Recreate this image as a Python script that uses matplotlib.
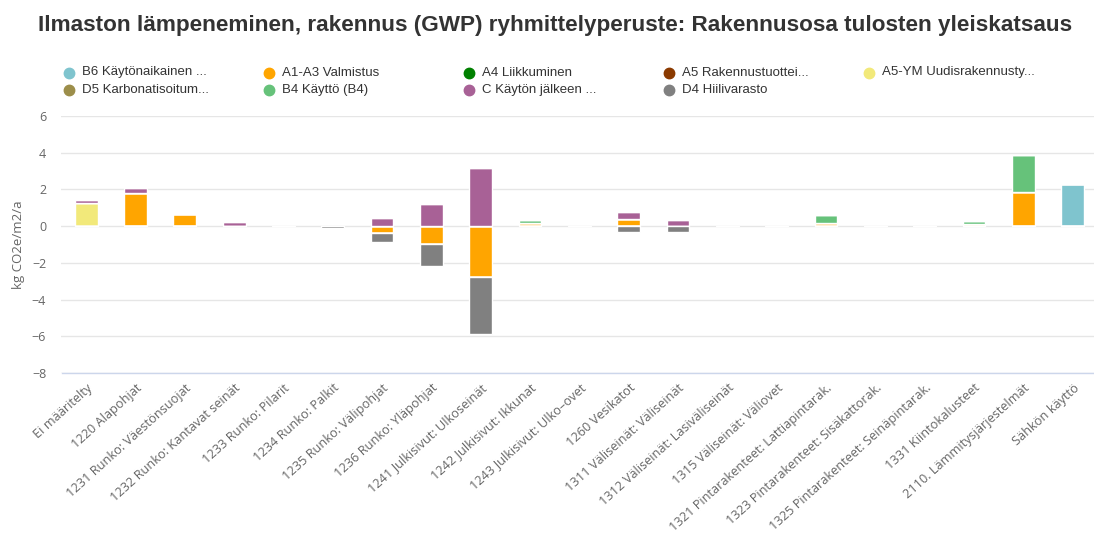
import matplotlib
matplotlib.use("Agg")
import matplotlib.pyplot as plt
from matplotlib.lines import Line2D
import numpy as np

categories = [
    "Ei määritelty", "1220 Alapohjat", "1231 Runko: Väestönsuojat",
    "1232 Runko: Kantavat seinät", "1233 Runko: Pilarit", "1234 Runko: Palkit",
    "1235 Runko: Välipohjat", "1236 Runko: Yläpohjat", "1241 Julkisivut: Ulkoseinät",
    "1242 Julkisivut: Ikkunat", "1243 Julkisivut: Ulko–ovet", "1260 Vesikatot",
    "1311 Väliseinät: Väliseinät", "1312 Väliseinät: Lasiväliseinät",
    "1315 Väliseinät: Väliovet", "1321 Pintarakenteet: Lattiapintarak.",
    "1323 Pintarakenteet: Sisäkattorak.", "1325 Pintarakenteet: Seinäpintarak.",
    "1331 Kiintokalusteet", "2110. Lämmitysjärjestelmät", "Sähkön käyttö",
]

series_names = [
    "B6 Käytönaikainen ...", "A1-A3 Valmistus", "A4 Liikkuminen",
    "A5 Rakennustuottei...", "A5-YM Uudisrakennusty...", "D5 Karbonatisoitum...",
    "B4 Käyttö (B4)", "C Käytön jälkeen ...", "D4 Hiilivarasto",
]
series_colors = ["#7fc4ce", "#ffa500", "#008000", "#8b3a00", "#f2e97a",
                 "#9c8e4a", "#66c27a", "#a86196", "#808080"]

b6   = [0, 0, 0, 0, 0, 0, 0, 0, 0, 0, 0, 0, 0, 0, 0, 0, 0, 0, 0, 0, 2.27]
a1a3 = [0, 1.78, 0.64, 0, 0, 0, -0.38, -1.0, -2.75, 0.18, 0, 0.40, 0, 0, 0, 0.18, 0, 0, 0.12, 1.85, 0]
a4   = [0] * 21
a5   = [0] * 21
a5ym = [1.27, 0, 0, 0, 0, 0, 0, 0, 0, 0, 0, 0, 0, 0, 0, 0, 0, 0, 0, 0, 0]
d5   = [0] * 21
b4   = [0, 0, 0, 0, 0, 0, 0, 0, 0, 0.15, 0, 0, 0, 0, 0, 0.40, 0, 0, 0.15, 2.0, 0]
c    = [0.17, 0.30, 0, 0.25, 0, 0, 0.45, 1.23, 3.18, 0, 0, 0.36, 0.33, 0, 0, 0, 0, 0, 0, 0, 0]
d4   = [0, 0, 0, 0, 0, -0.12, -0.47, -1.18, -3.10, 0, 0, -0.33, -0.33, 0, 0, 0, 0, 0, 0, 0, 0]

series_values = [b6, a1a3, a4, a5, a5ym, d5, b4, c, d4]

y_ticks = [6, 4, 2, 0, -2, -4, -6, -8]
y_label = "kg CO2e/m2/a"
title = "Ilmaston lämpeneminen, rakennus (GWP) ryhmittelyperuste: Rakennusosa tulosten yleiskatsaus"

W, H = 1094, 540
fig = plt.figure(figsize=(W / 100, H / 100), dpi=100)
left_px, right_px, top_px, bottom_px = 61.5, 1094, 116, 373
ax = fig.add_axes([left_px / W, 1 - bottom_px / H, (right_px - left_px) / W, (bottom_px - top_px) / H])

x = np.arange(len(categories))
pos_base = np.zeros(len(categories))
neg_base = np.zeros(len(categories))
for vals, col in zip(series_values, series_colors):
    v = np.array(vals, dtype=float)
    pos = np.where(v > 0, v, 0)
    neg = np.where(v < 0, v, 0)
    ax.bar(x, pos, 0.46, bottom=pos_base, color=col, edgecolor="white", linewidth=1, zorder=3)
    ax.bar(x, neg, 0.46, bottom=neg_base, color=col, edgecolor="white", linewidth=1, zorder=3)
    pos_base += pos
    neg_base += neg

ax.set_xlim(-0.5, len(categories) - 0.57)
ax.set_ylim(-8, 6)
ax.set_yticks(y_ticks)
ax.set_yticklabels([("\u2212" + str(-t)) if t < 0 else str(t) for t in y_ticks])
ax.grid(axis="y", color="#e6e6e6", linewidth=1, zorder=0)
ax.set_axisbelow(True)
for s in ["top", "right", "left"]:
    ax.spines[s].set_visible(False)
ax.spines["bottom"].set_color("#ccd6eb")
ax.spines["bottom"].set_linewidth(1)
ax.tick_params(axis="y", length=0, pad=11, labelsize=9, labelcolor="#666666")
ax.tick_params(axis="x", length=0, pad=6, labelsize=9.2, labelcolor="#666666")
for lab in ax.get_yticklabels():
    lab.set_fontfamily("Open Sans")
ax.set_xticks(x)
ax.set_xticklabels(categories, rotation=42, ha="right", rotation_mode="anchor",
                   fontfamily="Open Sans")
ax.set_ylabel(y_label, fontsize=9.5, color="#666666", fontfamily="Open Sans")
ax.yaxis.set_label_coords((25 - left_px) / (right_px - left_px), 0.5)

fig.text(38 / W, 1 - 25 / H, title, fontsize=16.2, fontweight="bold", color="#333333",
         va="center", ha="left", family="Liberation Sans")

# legend (row-major, 5 columns)
for i, (name, col) in enumerate(zip(series_names, series_colors)):
    r, cidx = divmod(i, 5)
    cx = 69 + cidx * 200
    cy = 72.5 + r * 17.5
    fig.add_artist(Line2D([cx / W], [1 - cy / H], marker="o", markersize=7.5, color=col,
                          linestyle="none", transform=fig.transFigure))
    fig.text((cx + 13) / W, 1 - cy / H, name, fontsize=9.5, color="#333333", va="center",
             ha="left", family="Liberation Sans")

fig.savefig("out.png", dpi=100)
